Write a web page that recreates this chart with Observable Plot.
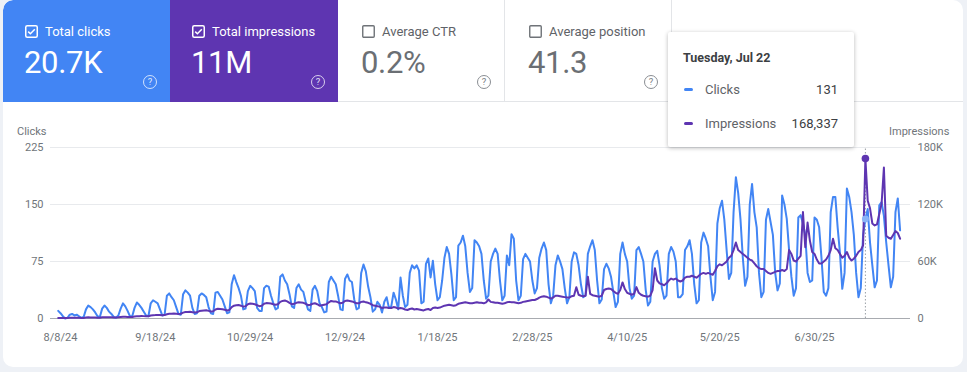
<!DOCTYPE html>
<html><head><meta charset="utf-8">
<script src="https://cdn.jsdelivr.net/npm/d3@7"></script>
<script src="https://cdn.jsdelivr.net/npm/@observablehq/plot@0.6"></script>
<style>
html,body{margin:0;padding:0}
body{width:967px;height:372px;overflow:hidden;position:relative;background:#eef1f6;font-family:Roboto,"Noto Sans",sans-serif}
#card{position:absolute;left:3px;top:0;width:960px;height:367px;background:#fff;border-radius:10px;overflow:hidden}
.tile{position:absolute;top:0;height:102px;box-sizing:border-box;border-bottom:1px solid #e3e5e8}
.tile .lab{position:absolute;left:22px;top:24px;font-size:13px;display:flex;align-items:center;gap:7px;white-space:nowrap}
.tile .val{position:absolute;left:21px;top:44px;font-size:31px;font-weight:400;letter-spacing:-0.3px}
.tile .q{position:absolute;right:13px;top:75px;width:12px;height:12px;border:1.3px solid;border-radius:50%;font-size:9.5px;line-height:12px;text-align:center}
#strip{position:absolute;left:669px;top:0;width:291px;height:102px;border-bottom:1px solid #e3e5e8;box-sizing:border-box}
#tip{position:absolute;left:668px;top:32px;width:186px;height:115px;background:#fff;box-shadow:0 1px 4px rgba(0,0,0,0.28);border-radius:2px;z-index:5;color:#3c4043}
#tip .t{position:absolute;left:15px;top:18px;font-size:12.5px;font-weight:700;color:#3c4043}
#tip .row{position:absolute;left:16px;right:16px;font-size:13px;color:#5f6368;display:flex;align-items:center}
#tip .dash{width:9px;height:3px;border-radius:2px;margin-right:12px}
#tip .num{margin-left:auto;color:#3c4043}
.axl{position:absolute;font-size:11px;color:#70757a}
#plot{position:absolute;left:0;top:120px}
</style></head>
<body>
<div id="card">
  <div class="tile" style="left:0;width:167px;background:#4285f4;color:#fff;border-top-left-radius:10px;border-bottom-color:#4285f4">
    <div class="lab"><svg width="13" height="13" viewBox="0 0 13 13"><rect x="0.75" y="0.75" width="11.5" height="11.5" rx="1.5" fill="none" stroke="#fff" stroke-width="1.5"/><path d="M3.2 6.6 L5.4 8.8 L9.8 4.2" fill="none" stroke="#fff" stroke-width="1.5"/></svg><span id="l1"></span></div>
    <div class="val" id="v1"></div>
    <div class="q" style="border-color:rgba(255,255,255,0.75);color:rgba(255,255,255,0.85)">?</div>
  </div>
  <div class="tile" style="left:167px;width:168px;background:#5e35b1;color:#fff;border-bottom-color:#5e35b1">
    <div class="lab"><svg width="13" height="13" viewBox="0 0 13 13"><rect x="0.75" y="0.75" width="11.5" height="11.5" rx="1.5" fill="none" stroke="#fff" stroke-width="1.5"/><path d="M3.2 6.6 L5.4 8.8 L9.8 4.2" fill="none" stroke="#fff" stroke-width="1.5"/></svg><span id="l2"></span></div>
    <div class="val" id="v2"></div>
    <div class="q" style="border-color:rgba(255,255,255,0.75);color:rgba(255,255,255,0.85)">?</div>
  </div>
  <div class="tile" style="left:335px;width:167px;background:#fff;color:#5f6368;border-right:1px solid #e3e5e8">
    <div class="lab" style="left:24px"><svg width="13" height="13" viewBox="0 0 13 13"><rect x="0.75" y="0.75" width="11.5" height="11.5" rx="1" fill="none" stroke="#6f7378" stroke-width="1.4"/></svg><span id="l3"></span></div>
    <div class="val" id="v3" style="left:23px;color:#6b6f74"></div>
    <div class="q" style="border-color:#8a8e93;color:#7a7e83">?</div>
  </div>
  <div class="tile" style="left:502px;width:167px;background:#fff;color:#5f6368;border-right:1px solid #e3e5e8">
    <div class="lab" style="left:24px"><svg width="13" height="13" viewBox="0 0 13 13"><rect x="0.75" y="0.75" width="11.5" height="11.5" rx="1" fill="none" stroke="#6f7378" stroke-width="1.4"/></svg><span id="l4"></span></div>
    <div class="val" id="v4" style="left:23px;color:#6b6f74"></div>
    <div class="q" style="border-color:#8a8e93;color:#7a7e83">?</div>
  </div>
  <div id="strip"></div>
</div>
<div id="tip">
  <div class="t" id="tipDate"></div>
  <div class="row" style="top:50px"><span class="dash" style="background:#4285f4"></span><span id="tipL1"></span><span class="num" id="tipV1"></span></div>
  <div class="row" style="top:84px"><span class="dash" style="background:#5e35b1"></span><span id="tipL2"></span><span class="num" id="tipV2"></span></div>
</div>
<div class="axl" style="left:17px;top:125px">Clicks</div>
<div class="axl" style="left:889px;top:125px">Impressions</div>
<div id="plot"></div>
<script>
// ---- metric cards ----
const metricLabels = ["Total clicks", "Total impressions", "Average CTR", "Average position"];
const metricValues = ["20.7K", "11M", "0.2%", "41.3"];

// ---- series (daily, starting Wed Aug 7, 2024; then weeks Thu..Wed) ----
const startDate = "2024-08-07";
const clicks = [10,
  7,3,0,1,5,6,4,
  5,3,1,2,12,17,15,
  12,8,3,2,13,17,14,
  9,6,2,1,4,13,20,
  16,10,3,3,14,21,18,
  14,9,4,3,20,24,22,
  20,12,4,5,30,33,28,
  24,15,6,5,32,37,34,
  30,14,6,7,30,33,31,
  28,15,7,6,34,35,30,
  25,16,7,8,45,57,48,
  40,30,12,13,36,43,40,
  36,14,10,10,40,43,42,
  30,20,12,14,55,58,50,
  45,32,16,14,40,45,38,
  35,22,12,10,38,43,36,
  20,15,8,9,48,55,50,
  45,30,12,11,52,58,50,
  48,25,12,14,60,71,62,
  42,28,9,12,22,18,8,
  22,28,14,16,34,25,12,
  54,30,15,18,60,70,66,
  70,63,20,22,72,79,54,
  76,45,24,28,50,80,94,
  85,58,24,28,96,100,109,
  95,60,35,40,103,100,95,
  85,50,26,30,75,85,92,
  85,50,24,30,83,70,111,
  105,50,24,30,78,85,80,
  75,50,33,40,80,92,100,
  90,45,20,30,70,83,75,
  65,40,20,28,75,87,85,
  70,45,28,30,85,95,103,
  90,50,20,25,65,72,66,
  55,35,15,22,85,100,85,
  75,40,26,30,90,94,85,
  75,38,17,22,75,85,89,
  70,40,26,30,85,94,88,
  75,28,28,32,90,95,103,
  85,45,20,24,100,113,105,
  95,55,24,35,125,145,155,
  130,90,52,60,140,186,165,
  130,80,43,55,150,177,140,
  120,60,28,35,130,144,127,
  110,60,37,46,162,150,131,
  90,55,30,40,133,136,125,
  110,60,48,50,133,130,120,
  80,35,30,40,140,160,160,
  120,86,39,60,171,160,140,
  110,60,28,40,110,131,144,
  100,70,41,50,149,153,135,
  100,70,41,55,140,158,116
];
// impressions, in thousands
const impressionsK = [0.5,
  0.6,0.5,0.4,0.4,0.7,0.8,0.8,
  0.9,0.8,0.6,0.6,1.0,1.2,1.1,
  1.1,1.0,0.8,0.8,1.3,1.4,1.4,
  1.4,1.2,1.0,1.0,1.2,1.6,1.8,
  1.9,1.7,1.5,1.6,2.2,2.4,2.4,
  2.6,2.5,2.3,2.4,3.2,3.5,3.6,
  3.8,3.6,3.4,3.6,4.5,4.9,5.0,
  5.2,5.0,4.7,5.0,6.2,6.8,6.9,
  7.0,6.6,6.2,6.5,7.8,8.2,8.5,
  8.6,8.0,7.4,7.6,9.5,10.2,10.0,
  9.8,9.2,8.5,9.0,12.0,13.5,14.0,
  14.2,13.5,12.5,13.0,15.0,15.8,15.5,
  15.0,14.0,13.0,13.5,15.5,16.2,16.0,
  15.8,15.0,14.5,15.0,17.5,18.5,19.0,
  18.0,16.5,15.0,15.5,16.5,17.0,16.8,
  16.5,15.5,14.0,14.5,15.5,16.0,15.0,
  13.5,14.0,14.5,15.0,17.0,18.5,18.0,
  18.0,17.0,16.0,16.5,18.5,19.0,18.5,
  18.0,17.0,16.0,16.0,17.5,18.0,17.0,
  16.5,15.5,14.0,13.5,13.0,12.5,11.0,
  11.5,11.5,11.0,11.0,12.0,11.5,10.5,
  11.0,10.5,9.5,9.0,10.0,10.5,9.5,
  10.0,9.5,9.0,8.5,9.5,10.0,9.0,
  11.0,11.5,11.0,11.5,12.5,13.5,14.0,
  14.5,14.0,13.5,14.0,15.5,16.0,16.5,
  17.0,16.5,16.0,16.0,16.5,17.0,16.5,
  16.5,16.0,17.0,20.0,17.5,17.0,16.5,
  16.5,16.0,15.5,16.0,17.0,17.5,17.0,
  17.0,16.5,16.0,16.5,17.5,18.0,18.5,
  19.0,19.5,19.5,20.5,22.0,23.0,23.5,
  23.0,22.0,21.0,22.0,24.0,24.0,23.5,
  23.0,22.5,22.0,22.0,23.5,24.0,33.0,
  25.0,24.0,23.5,24.0,44.0,26.0,24.5,
  24.0,23.5,23.0,24.0,30.0,31.0,31.5,
  31.0,29.0,27.0,26.0,30.0,38.0,31.0,
  27.0,26.0,25.0,26.0,33.0,27.0,25.0,
  24.0,23.5,23.0,24.0,30.0,53.0,40.0,
  37.0,36.0,35.0,37.0,40.0,42.0,41.0,
  42.0,40.0,39.0,40.0,43.0,44.0,44.0,
  45.0,44.0,43.0,45.0,47.0,48.0,47.0,
  48.0,47.0,46.0,50.0,55.0,57.0,56.0,
  58.0,60.0,64.0,66.0,72.0,80.0,72.0,
  70.0,68.0,66.0,64.0,62.0,61.0,58.0,
  55.0,53.0,52.0,52.0,50.0,48.0,47.0,
  48.0,49.0,50.0,50.0,51.0,50.0,52.0,
  72.0,68.0,61.0,60.0,63.0,66.0,112.0,
  75.0,101.0,82.0,70.0,68.0,62.0,58.0,
  58.0,60.0,62.0,66.0,72.0,84.0,74.0,
  72.0,68.0,64.0,66.0,70.0,64.0,61.0,
  63.0,66.0,70.0,72.0,77.0,168.337,124.0,
  116,100,98,99,110,121,159,
  87,85,84,88,92,90,84
];

// ---- axes ----
const clickTicks = [0, 75, 150, 225];
const impressionTicksK = [0, 60, 120, 180];
const impressionTickLabels = ["0", "60K", "120K", "180K"];
const xTickDates = ["2024-08-08","2024-09-18","2024-10-29","2024-12-09","2025-01-18","2025-02-28","2025-04-10","2025-05-20","2025-06-30"];
const xDomain = ["2024-08-03T16:00Z", "2025-08-10T12:00Z"];

// ---- tooltip ----
const tipDate = "2025-07-22";
const tipTitle = "Tuesday, Jul 22";
const tipLabels = ["Clicks", "Impressions"];

// fill text
metricLabels.forEach((t,i)=>document.getElementById("l"+(i+1)).textContent=t);
metricValues.forEach((t,i)=>document.getElementById("v"+(i+1)).textContent=t);

const start = new Date(startDate + "T00:00Z");
const data = clicks.map((c, i) => ({date: d3.utcDay.offset(start, i), clicks: c, impK: impressionsK[i]}));
const ratio = clickTicks[clickTicks.length-1] / impressionTicksK[impressionTicksK.length-1];
const tipD = new Date(tipDate + "T00:00Z");
const sel = data.filter(d => +d.date === +tipD);

document.getElementById("tipDate").textContent = tipTitle;
document.getElementById("tipL1").textContent = tipLabels[0];
document.getElementById("tipL2").textContent = tipLabels[1];
document.getElementById("tipV1").textContent = d3.format(",")(sel[0].clicks);
document.getElementById("tipV2").textContent = d3.format(",")(Math.round(sel[0].impK*1000));

const chart = Plot.plot({
  width: 967, height: 230,
  marginTop: 27, marginBottom: 32, marginLeft: 50, marginRight: 57,
  style: {fontFamily: "Roboto, sans-serif", fontSize: "11px", color: "#70757a", background: "transparent"},
  x: {type: "utc", domain: xDomain.map(s => new Date(s))},
  y: {domain: [0, 225]},
  marks: [
    Plot.ruleY(clickTicks.slice(1), {stroke: "#e8eaed", strokeWidth: 1}),
    Plot.ruleY([0], {stroke: "#a8abb0", strokeWidth: 1}),
    Plot.axisY({ticks: clickTicks, tickSize: 0, tickPadding: 7, label: null}),
    Plot.axisY({anchor: "right", ticks: impressionTicksK.map(v => v*ratio), tickSize: 0, tickPadding: 7, label: null,
      tickFormat: v => impressionTickLabels[impressionTicksK.indexOf(Math.round(v/ratio))]}),
    Plot.axisX({ticks: xTickDates.map(s => new Date(s + "T00:00Z")), tickFormat: d3.utcFormat("%-m/%-d/%y"), tickSize: 0, tickPadding: 15, label: null}),
    Plot.ruleX(sel, {x: "date", y1: 0, y2: 225, stroke: "#9aa0a6", strokeDasharray: "1.5,2"}),
    Plot.line(data, {x: "date", y: "clicks", stroke: "#4285f4", strokeWidth: 2, curve: "linear"}),
    Plot.line(data, {x: "date", y: d => d.impK * ratio, stroke: "#5e35b1", strokeWidth: 2, curve: "linear"}),
    Plot.dot(sel, {x: "date", y: "clicks", r: 3.5, fill: "#8ab4f8"}),
    Plot.dot(sel, {x: "date", y: d => d.impK * ratio, r: 3.8, fill: "#5e35b1"})
  ]
});
document.getElementById("plot").appendChild(chart);
</script>
</body></html>
